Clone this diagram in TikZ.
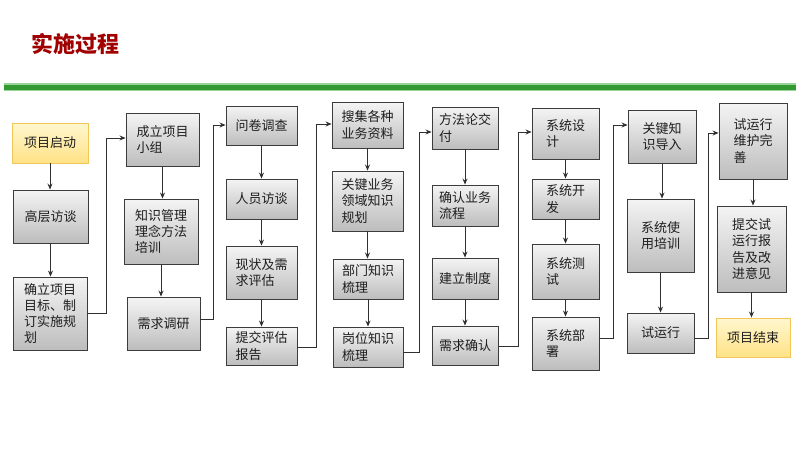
\documentclass[tikz,border=0pt]{standalone}
\usepackage{fontspec}
\newfontfamily\cjk{Noto Sans CJK SC}
\usetikzlibrary{arrows.meta,shadings}
\definecolor{titlered}{HTML}{A00000}
\definecolor{bargreen}{HTML}{339933}
\definecolor{barlight}{HTML}{9AD49A}
\definecolor{boxborder}{HTML}{3C3C3C}
\definecolor{boxtop}{HTML}{F4F4F4}
\definecolor{boxbot}{HTML}{BDBDBD}
\definecolor{yeltop}{HTML}{FFF7CF}
\definecolor{yelbot}{HTML}{FFE286}
\definecolor{yelborder}{HTML}{F2C75A}
\definecolor{txt}{HTML}{1E1E1E}
\definecolor{linec}{HTML}{303030}
\tikzset{
  graybox/.style={draw=boxborder, line width=0.9pt, top color=boxtop, bottom color=boxbot,
    align=left, inner sep=0pt, text=txt, font=\cjk\fontsize{13}{16.3}\selectfont},
  yelbox/.style={graybox, draw=yelborder, top color=yeltop, bottom color=yelbot},
  conn/.style={draw=linec, line width=0.8pt, -{Stealth[length=6pt,width=5pt]}},
}
% box macro: name, x1, y1, x2, y2, style, text
\newcommand{\mybox}[7]{%
  \pgfmathsetmacro{\bw}{#4-#2}\pgfmathsetmacro{\bh}{#5-#3}%
  \node[#6, minimum width=\bw pt, minimum height=\bh pt] (#1) at ({(#2+#4)/2},{(#3+#5)/2}) {#7};}
\begin{document}
\begin{tikzpicture}[x=1pt,y=-1pt]
\useasboundingbox (0,0) rectangle (800,450);
% title
\node[font=\cjk\bfseries\fontsize{22}{24}\selectfont, text=titlered, anchor=west] (title) at (28,44) {实施过程};
% green bar
\fill[barlight] (4,83) rectangle (796,91);
\fill[bargreen] (4,84.5) rectangle (796,89.5);
% column 1
\mybox{a1}{12}{123}{88}{163}{yelbox}{项目启动}
\mybox{a2}{13}{190}{88}{243}{graybox}{高层访谈}
\mybox{a3}{13}{277}{87}{350}{graybox}{确立项目\\目标、制\\订实施规\\划}
% column 2
\mybox{b1}{126}{113}{199}{166}{graybox}{成立项目\\小组}
\mybox{b2}{124}{199}{198}{264}{graybox}{知识管理\\理念方法\\培训}
\mybox{b3}{127}{297}{200}{350}{graybox}{需求调研}
% column 3
\mybox{c1}{226}{106}{297}{145}{graybox}{问卷调查}
\mybox{c2}{226}{179}{297}{219}{graybox}{人员访谈}
\mybox{c3}{226}{246}{297}{299}{graybox}{现状及需\\求评估}
\mybox{c4}{226}{327}{297}{365}{graybox}{提交评估\\报告}
% column 4
\mybox{d1}{332}{102}{403}{148}{graybox}{搜集各种\\业务资料}
\mybox{d2}{332}{171}{403}{231}{graybox}{关键业务\\领域知识\\规划}
\mybox{d3}{333}{259}{403}{299}{graybox}{部门知识\\梳理}
\mybox{d4}{333}{327}{403}{367}{graybox}{岗位知识\\梳理}
% column 5
\mybox{e1}{432}{107}{498}{149}{graybox}{方法论交\\付}
\mybox{e2}{432}{185}{498}{226}{graybox}{确认业务\\流程}
\mybox{e3}{432}{258}{498}{299}{graybox}{建立制度}
\mybox{e4}{432}{326}{498}{365}{graybox}{需求确认}
% column 6
\mybox{f1}{532}{108}{599}{159}{graybox}{系统设\\计}
\mybox{f2}{532}{179}{599}{219}{graybox}{系统开\\发}
\mybox{f3}{532}{244}{599}{299}{graybox}{系统测\\试}
\mybox{f4}{532}{317}{599}{370}{graybox}{系统部\\署}
% column 7
\mybox{g1}{628}{110}{696}{163}{graybox}{关键知\\识导入}
\mybox{g2}{627}{199}{694}{272}{graybox}{系统使\\用培训}
\mybox{g3}{627}{313}{694}{353}{graybox}{试运行}
% column 8
\mybox{h1}{719}{103}{787}{179}{graybox}{试运行\\维护完\\善}
\mybox{h2}{717}{206}{786}{292}{graybox}{提交试\\运行报\\告及改\\进意见}
\mybox{h3}{716}{318}{790}{357}{yelbox}{项目结束}
% vertical arrows
\foreach \u/\v in {a1/a2,a2/a3,b1/b2,b2/b3,c1/c2,c2/c3,c3/c4,d1/d2,d2/d3,d3/d4,e1/e2,e2/e3,e3/e4,f1/f2,f2/f3,f3/f4,g1/g2,g2/g3,h1/h2,h2/h3}
  \draw[conn] (\u.south) -- (\u.south |- \v.north);
% bend points
\coordinate (k1) at (106,138);
\coordinate (k2) at (213,125);
\coordinate (k3) at (316,124);
\coordinate (k4) at (419,132);
\coordinate (k5) at (518,132);
\coordinate (k6) at (613,125);
\coordinate (k7) at (708,133);
% column-to-column connectors
\draw[conn] (a3.east |- 0,313) -| (k1) -- (k1 -| b1.west);
\draw[conn] (b3.east |- 0,319) -| (k2) -- (k2 -| c1.west);
\draw[conn] (c4.east |- 0,347) -| (k3) -- (k3 -| d1.west);
\draw[conn] (d4.east |- 0,352) -| (k4) -- (k4 -| e1.west);
\draw[conn] (e4.east |- 0,346) -| (k5) -- (k5 -| f1.west);
\draw[conn] (f4.east |- 0,338) -| (k6) -- (k6 -| g1.west);
\draw[conn] (g3.east |- 0,338) -| (k7) -- (k7 -| h1.west);
\end{tikzpicture}
\end{document}
